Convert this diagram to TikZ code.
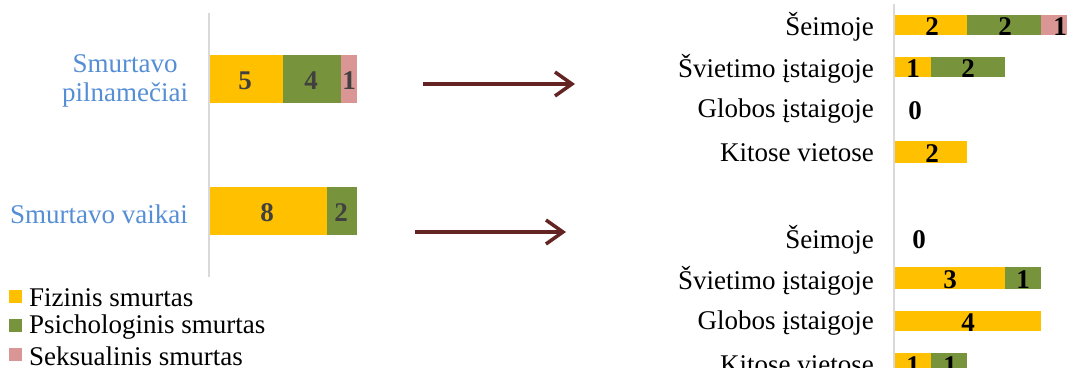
\documentclass[tikz,border=0pt]{standalone}
\usepackage{fontspec}
\setmainfont{Liberation Serif}
\usetikzlibrary{arrows.meta}
\definecolor{fiz}{HTML}{FFC000}
\definecolor{psi}{HTML}{77933C}
\definecolor{sek}{HTML}{D99694}
\definecolor{lbl}{HTML}{558ED5}
\definecolor{arr}{HTML}{632423}
\definecolor{axisc}{HTML}{D9D9D9}
\tikzset{
  txt/.style={inner sep=0pt, font=\fontsize{27}{29}\selectfont},
  numl/.style={txt, font=\fontsize{27}{29}\selectfont\bfseries, text=black!75},
  numr/.style={txt, font=\fontsize{27}{29}\selectfont\bfseries, text=black},
  axisline/.style={draw=axisc, line width=2pt},
  bigarrow/.style={draw=arr, line width=3.5pt, -{Straight Barb[length=17pt, width=24pt, line width=3.5pt]}},
}
\begin{document}
\begin{tikzpicture}[x=1pt, y=-1pt]
\useasboundingbox (0,0) rectangle (1078,367);
% left chart
\draw[axisline] (209,13) -- (209,277);
\fill[fiz] (210,55) rectangle (283,103);
\fill[psi] (283,55) rectangle (341,103);
\fill[sek] (341,55) rectangle (357,103);
\node[numl] (l5) at (245,81) {5};
\node[numl] (l4) at (311,81) {4};
\node[numl] (l1) at (349,81) {1};
\fill[fiz] (210,187) rectangle (327,235);
\fill[psi] (327,187) rectangle (357,235);
\node[numl] (l8) at (267,213) {8};
\node[numl] (l2) at (341,213) {2};
\node[txt, text=lbl, align=center] (pil) at (125,81) {Smurtavo\\pilnamečiai};
\node[txt, text=lbl, anchor=east] (vai) at (188,214) {Smurtavo vaikai};
% legend
\fill[fiz] (9,290) rectangle (22,303);
\fill[psi] (9,319) rectangle (22,332);
\fill[sek] (9,348) rectangle (22,361);
\node[txt, anchor=west] (lg1) at (29,298) {Fizinis smurtas};
\node[txt, anchor=west] (lg2) at (29,327) {Psichologinis smurtas};
\node[txt, anchor=west] (lg3) at (29,356) {Seksualinis smurtas};
% arrows
\coordinate (a1s) at (423,84);
\coordinate (a1e) at (575,84);
\coordinate (a2s) at (415,232);
\coordinate (a2e) at (566,232);
\draw[bigarrow] (a1s) -- (a1e);
\draw[bigarrow] (a2s) -- (a2e);
% right chart
\draw[axisline] (894,4) -- (894,370);
% top group
\fill[fiz] (895,15) rectangle (967,35);
\fill[psi] (967,15) rectangle (1041,35);
\fill[sek] (1041,15) rectangle (1067,35);
\node[numr] (t1a) at (932,27) {2};
\node[numr] (t1b) at (1005,27) {2};
\node[numr] (t1c) at (1060,27) {1};
\fill[fiz] (895,57) rectangle (931,77);
\fill[psi] (931,57) rectangle (1005,77);
\node[numr] (t2a) at (913,69) {1};
\node[numr] (t2b) at (968,69) {2};
\node[numr] (t3a) at (915,111) {0};
\fill[fiz] (895,141) rectangle (967,163);
\node[numr] (t4a) at (932,154) {2};
\node[txt, anchor=east] (tl1) at (874,27) {Šeimoje};
\node[txt, anchor=east] (tl2) at (874,69) {Švietimo įstaigoje};
\node[txt, anchor=east] (tl3) at (874,111) {Globos įstaigoje};
\node[txt, anchor=east] (tl4) at (874,153) {Kitose vietose};
% bottom group
\node[numr] (b1a) at (919,240) {0};
\fill[fiz] (895,267) rectangle (1005,289);
\fill[psi] (1005,267) rectangle (1041,289);
\node[numr] (b2a) at (950,280) {3};
\node[numr] (b2b) at (1023,280) {1};
\fill[fiz] (895,311) rectangle (1041,331);
\node[numr] (b3a) at (968,323) {4};
\fill[fiz] (895,353) rectangle (931,375);
\fill[psi] (931,353) rectangle (967,375);
\node[numr] (b4a) at (913,366) {1};
\node[numr] (b4b) at (950,366) {1};
\node[txt, anchor=east] (bl1) at (874,240) {Šeimoje};
\node[txt, anchor=east] (bl2) at (874,281) {Švietimo įstaigoje};
\node[txt, anchor=east] (bl3) at (874,323) {Globos įstaigoje};
\node[txt, anchor=east] (bl4) at (874,365) {Kitose vietose};
\end{tikzpicture}
\end{document}
